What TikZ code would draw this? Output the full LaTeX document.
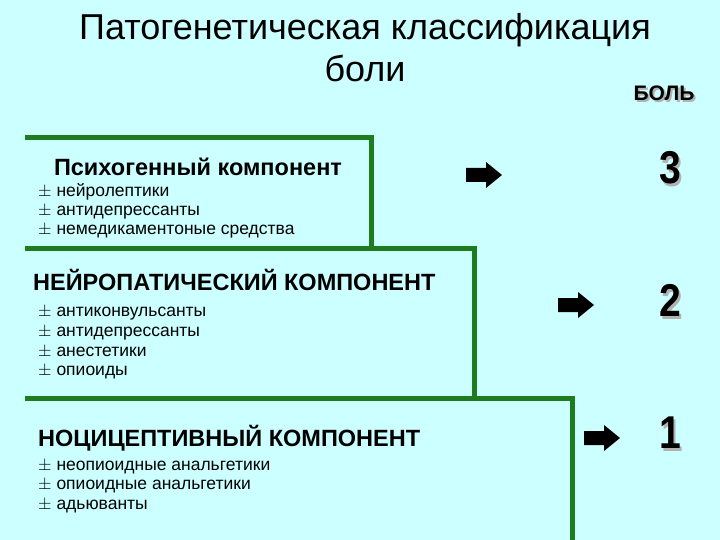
\documentclass[tikz,border=0pt]{standalone}
\usepackage{fontspec}
\setmainfont{Liberation Sans}
\definecolor{bg}{HTML}{CCFFFF}
\definecolor{stepg}{HTML}{1E7B1E}
\begin{document}
\begin{tikzpicture}[x=1pt,y=-1pt,
  hd/.style={anchor=west,font=\bfseries\fontsize{23.5}{26}\selectfont,inner sep=0},
  it/.style={anchor=west,font=\fontsize{17.5}{20}\selectfont,inner sep=0},
  num/.style={font=\bfseries\fontsize{46}{50}\selectfont,inner sep=0},
  gl/.style={draw=stepg,line width=5pt}]
\fill[bg] (0,0) rectangle (720,540);
\useasboundingbox (0,0) rectangle (720,540);
\node[font=\fontsize{36}{42}\selectfont,align=center,inner sep=0] (title) at (365,48) {Патогенетическая классификация\\боли};
\node[font=\bfseries\fontsize{21}{24}\selectfont,text=gray!60,inner sep=0] at (666,95) {БОЛЬ};
\node[font=\bfseries\fontsize{21}{24}\selectfont,inner sep=0] (bol) at (664,93) {БОЛЬ};
% steps
\draw[gl] (25,138) -- (371,138) -- (371,248);
\draw[gl] (25,248) -- (474,248) -- (474,398);
\draw[gl] (25,398) -- (572,398) -- (572,540);
% texts
\node[hd,anchor=center] (h1) at (198,167) {Психогенный компонент};
\node[it] (a1) at (38,192) {$\pm$ нейролептики};
\node[it] (a2) at (38,212) {$\pm$ антидепрессанты};
\node[it] (a3) at (38,231) {$\pm$ немедикаментоные средства};
\node[hd] (h2) at (33,280) {НЕЙРОПАТИЧЕСКИЙ КОМПОНЕНТ};
\node[it] (b1) at (38,313) {$\pm$ антиконвульсанты};
\node[it] (b2) at (38,333) {$\pm$ антидепрессанты};
\node[it] (b3) at (38,352) {$\pm$ анестетики};
\node[it] (b4) at (38,372) {$\pm$ опиоиды};
\node[hd] (h3) at (38,438) {НОЦИЦЕПТИВНЫЙ КОМПОНЕНТ};
\node[it] (c1) at (38,467) {$\pm$ неопиоидные анальгетики};
\node[it] (c2) at (38,486) {$\pm$ опиоидные анальгетики};
\node[it] (c3) at (38,506) {$\pm$ адьюванты};
% arrows
\fill (466,168) -- (486,168) -- (486,162) -- (502,175) -- (486,188) -- (486,182) -- (466,182) -- cycle;
\fill (558,298) -- (578,298) -- (578,292) -- (594,305) -- (578,318) -- (578,312) -- (558,312) -- cycle;
\fill (584,431) -- (604,431) -- (604,425) -- (620,438) -- (604,451) -- (604,445) -- (584,445) -- cycle;
% numbers
\foreach \n/\y in {3/168,2/300,1/433}{
  \node[num,text=gray!60,xscale=0.85] at (672,\y+3) {\n};
  \node[num,xscale=0.85] at (670,\y) {\n};}
\end{tikzpicture}
\end{document}
